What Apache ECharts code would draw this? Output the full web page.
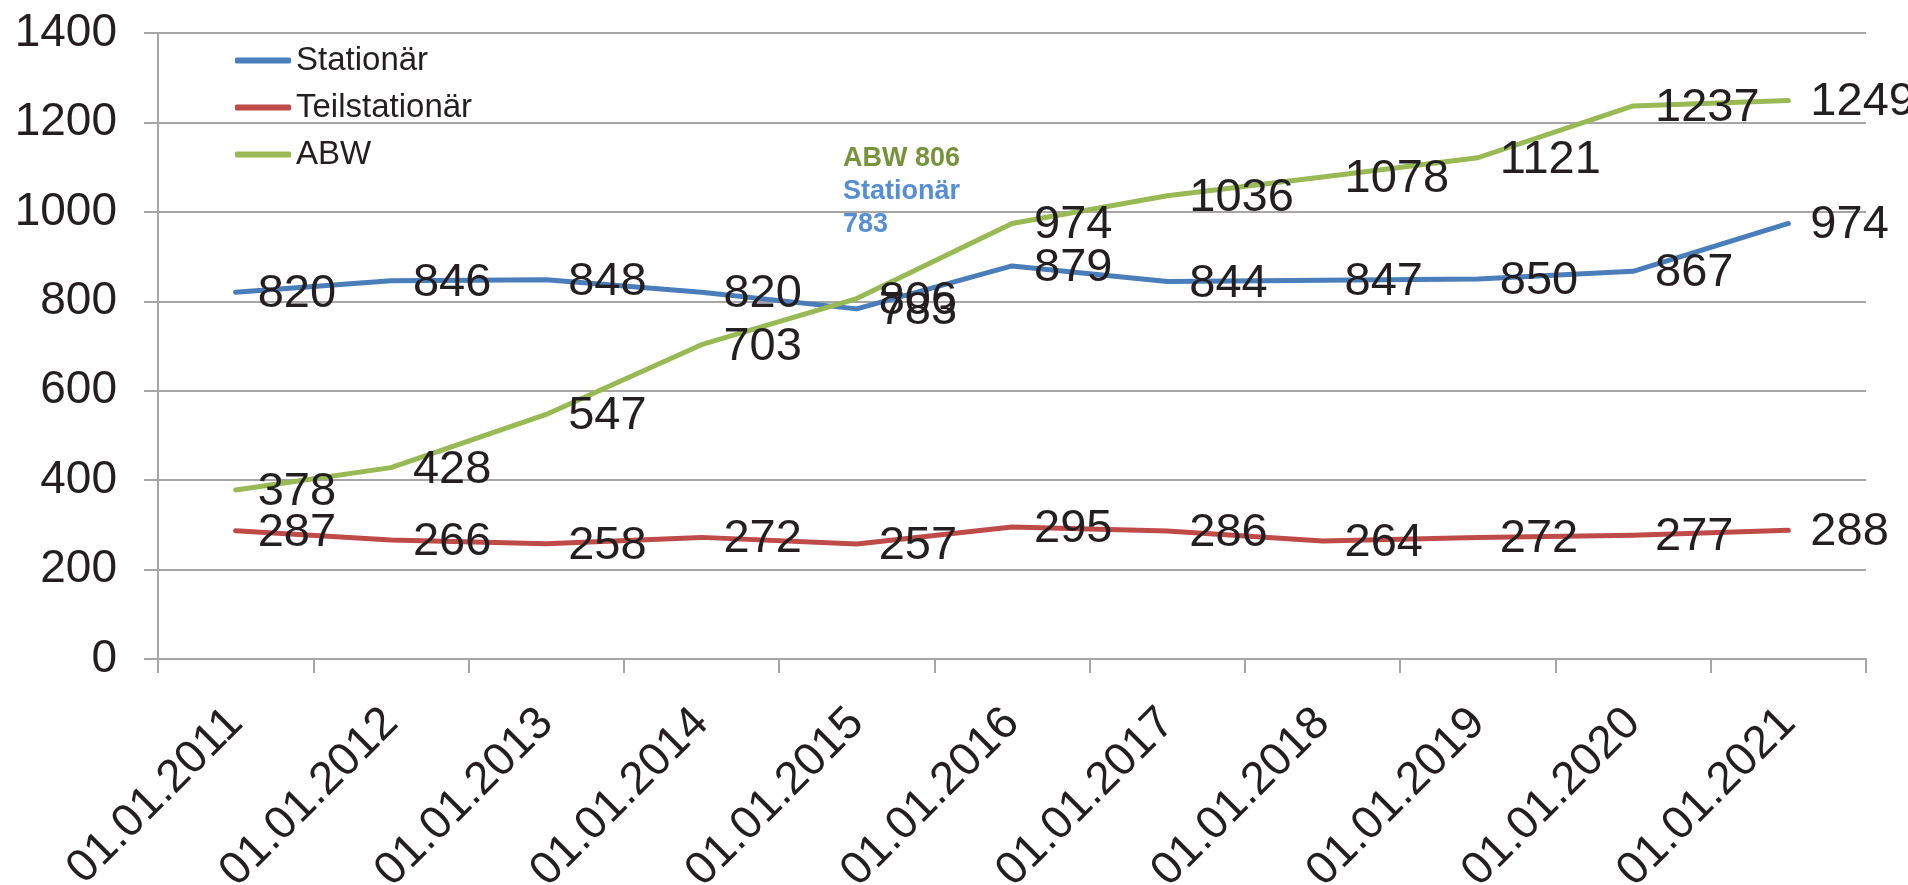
<!DOCTYPE html>
<html>
<head>
<meta charset="utf-8">
<script src="https://cdn.jsdelivr.net/npm/echarts@6/dist/echarts.min.js"></script>
<style>
  html, body { margin: 0; padding: 0; background: #ffffff; }
  #chart { width: 1908px; height: 885px; }
</style>
</head>
<body>
<div id="chart"></div>
<script>
// Stichtage (jeweils 1. Januar)
const categories = ['01.01.2011', '01.01.2012', '01.01.2013', '01.01.2014', '01.01.2015',
  '01.01.2016', '01.01.2017', '01.01.2018', '01.01.2019', '01.01.2020', '01.01.2021'];

// Fallzahlen je Versorgungsform
const stationaer = [820, 846, 848, 820, 783, 879, 844, 847, 850, 867, 974];
const teilstationaer = [287, 266, 258, 272, 257, 295, 286, 264, 272, 277, 288];
const abw = [378, 428, 547, 703, 806, 974, 1036, 1078, 1121, 1237, 1249];

// y-Achse
const yTicks = [0, 200, 400, 600, 800, 1000, 1200, 1400];

const FONT = 'Liberation Sans, Arial, sans-serif';
const TEXT = '#231F20';
const GRID = '#A6A6A6';

const colors = { stationaer: '#4A7EBB', teil: '#BE4B48', abw: '#98B954' };

function lineSeries(name, data, color) {
  return {
    name: name,
    type: 'line',
    data: data,
    // unsichtbare Punkte, damit die Wertebeschriftungen erscheinen
    symbol: 'circle',
    symbolSize: 0.01,
    showSymbol: true,
    showAllSymbol: true,
    smooth: false,
    lineStyle: { width: 5, color: color, cap: 'round', join: 'round' },
    itemStyle: { color: color },
    label: {
      show: true,
      position: 'right',
      distance: 22,
      offset: [0, 2],
      fontSize: 47,
      fontFamily: FONT,
      color: TEXT
    },
    emphasis: { disabled: true },
    animation: false
  };
}

const chart = echarts.init(document.getElementById('chart'), null, { renderer: 'canvas' });

// Hinweis auf den Stand 2015, wo sich die Kurven schneiden
const idx2015 = categories.indexOf('01.01.2015');

chart.setOption({
  animation: false,
  backgroundColor: '#ffffff',
  color: [colors.stationaer, colors.teil, colors.abw],
  tooltip: { show: false },
  grid: {
    left: 158, right: 42, top: 33, bottom: 226,
    containLabel: false,
    outerBoundsMode: 'none'
  },
  legend: {
    orient: 'vertical',
    left: 230,
    top: 39,
    itemWidth: 56,
    itemHeight: 6,
    itemGap: 14,
    icon: 'roundRect',
    selectedMode: false,
    textStyle: { fontSize: 33, fontFamily: FONT, color: TEXT, lineHeight: 33 },
    data: ['Stationär', 'Teilstationär', 'ABW']
  },
  xAxis: {
    type: 'category',
    data: categories,
    boundaryGap: true,
    axisLine: { show: true, lineStyle: { color: GRID, width: 2 } },
    axisTick: { show: true, length: 14, alignWithLabel: false, lineStyle: { color: GRID, width: 2 } },
    axisLabel: {
      rotate: 45,
      margin: 57,
      interval: 0,
      fontSize: 46,
      fontFamily: FONT,
      color: TEXT
    },
    splitLine: { show: false }
  },
  yAxis: {
    type: 'value',
    min: yTicks[0],
    max: yTicks[yTicks.length - 1],
    interval: yTicks[1] - yTicks[0],
    axisLine: { show: true, lineStyle: { color: GRID, width: 2 } },
    axisTick: { show: true, length: 14, lineStyle: { color: GRID, width: 2 } },
    axisLabel: {
      margin: 41,
      fontSize: 46,
      fontFamily: FONT,
      color: TEXT,
      formatter: function (v) { return String(v); }
    },
    splitLine: { show: true, lineStyle: { color: GRID, width: 2 } }
  },
  series: [
    lineSeries('Stationär', stationaer, colors.stationaer),
    lineSeries('Teilstationär', teilstationaer, colors.teil),
    lineSeries('ABW', abw, colors.abw)
  ],
  graphic: [
    {
      type: 'text',
      left: 843,
      top: 145,
      silent: true,
      style: {
        text: '{g|ABW ' + abw[idx2015] + '}\n{b|Stationär}\n{b|' + stationaer[idx2015] + '}',
        fontFamily: FONT,
        rich: {
          g: { fontSize: 27, fontWeight: 'bold', fontFamily: FONT, fill: '#77933C', color: '#77933C', lineHeight: 33 },
          b: { fontSize: 27, fontWeight: 'bold', fontFamily: FONT, fill: '#558ED5', color: '#558ED5', lineHeight: 33 }
        }
      }
    }
  ]
});
</script>
</body>
</html>
